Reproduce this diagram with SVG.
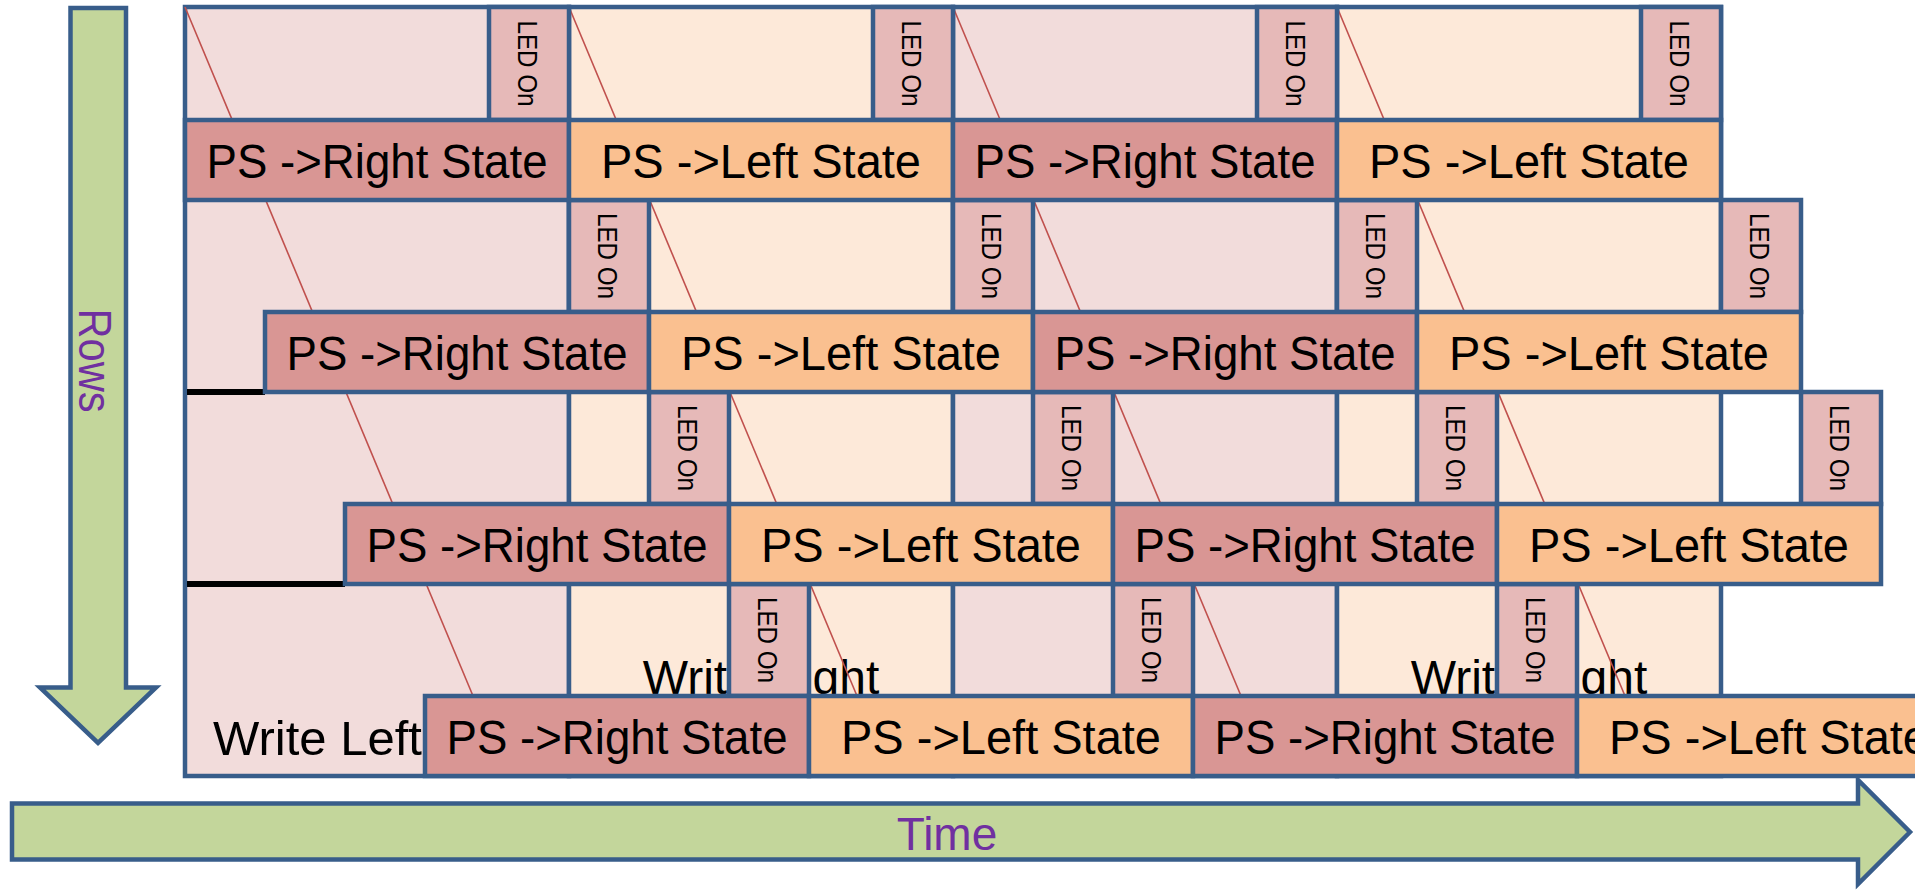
<svg xmlns="http://www.w3.org/2000/svg" width="1932" height="890" viewBox="0 0 1932 890">
  <defs>
    <clipPath id="page"><rect x="0" y="0" width="1915" height="890"/></clipPath>
  </defs>
  <style>
    .bd { stroke:#385D8A; stroke-width:4.5; stroke-linejoin:miter; }
    .bg-r { fill:#F2DCDB; }
    .bg-l { fill:#FDE9D9; }
    .led { fill:#E6B9B8; }
    .ps-r { fill:#D99694; }
    .ps-l { fill:#FAC090; }
    .arrow { fill:#C3D69B; }
    .t { font-family:"Liberation Sans", Arial, sans-serif; fill:#000; }
    .ps-t { font-size:48px; text-anchor:middle; }
    .write-t { font-size:48px; }
    .led-t { font-size:27px; text-anchor:middle; }
    .axis-t { font-size:46px; fill:#7030A0; text-anchor:middle; }
    .diag { stroke:#C0504D; stroke-width:1.6; fill:none; }
    .gap { stroke:#000; stroke-width:6; }
  </style>

  <g clip-path="url(#page)">
    <!-- Axis arrows -->
    <g id="rows-arrow">
      <polygon class="arrow bd" points="70.5,8 126,8 126,687.5 156,687.5 98,743 40,687.5 70.5,687.5"/>
      <text class="t axis-t" transform="translate(79,360.5) rotate(90)" textLength="104" lengthAdjust="spacingAndGlyphs">Rows</text>
    </g>
    <g id="time-arrow">
      <polygon class="arrow bd" points="12,803.5 1858,803.5 1858,780 1910,832 1858,884 1858,859.5 12,859.5"/>
      <text class="t axis-t" x="947" y="850">Time</text>
    </g>

    <!-- Write phases: tall column backgrounds -->
    <g id="write-left-1">
      <rect class="bg-r bd" x="185" y="7" width="384" height="769"/>
      <text class="t write-t" x="213" y="755" textLength="209" lengthAdjust="spacingAndGlyphs">Write Left</text>
    </g>
    <g id="write-right-1">
      <rect class="bg-l bd" x="569" y="7" width="384" height="769"/>
      <text class="t write-t" x="761" y="694" text-anchor="middle">Write Right</text>
    </g>
    <g id="write-left-2">
      <rect class="bg-r bd" x="953" y="7" width="384" height="769"/>
    </g>
    <g id="write-right-2">
      <rect class="bg-l bd" x="1337" y="7" width="384" height="769"/>
      <text class="t write-t" x="1529" y="694" text-anchor="middle">Write Right</text>
    </g>

    <!-- Row scan diagonals -->
    <g id="scan-diagonals">
      <line class="diag" x1="185" y1="7" x2="474.7" y2="700"/>
      <line class="diag" x1="569" y1="7" x2="858.7" y2="700"/>
      <line class="diag" x1="953" y1="7" x2="1242.7" y2="700"/>
      <line class="diag" x1="1337" y1="7" x2="1626.7" y2="700"/>
    </g>

    <!-- Idle gaps before delayed rows -->
    <g id="row-gaps">
      <line class="gap" x1="187" y1="392" x2="265" y2="392"/>
      <line class="gap" x1="187" y1="584" x2="345" y2="584"/>
    </g>

    <!-- LED On windows -->
    <g id="led-r1-1"><rect class="led bd" x="489" y="7" width="80" height="113"/><text class="t led-t" transform="translate(518,63.5) rotate(90)" textLength="86" lengthAdjust="spacingAndGlyphs">LED On</text></g>
    <g id="led-r1-2"><rect class="led bd" x="873" y="7" width="80" height="113"/><text class="t led-t" transform="translate(902,63.5) rotate(90)" textLength="86" lengthAdjust="spacingAndGlyphs">LED On</text></g>
    <g id="led-r1-3"><rect class="led bd" x="1257" y="7" width="80" height="113"/><text class="t led-t" transform="translate(1286,63.5) rotate(90)" textLength="86" lengthAdjust="spacingAndGlyphs">LED On</text></g>
    <g id="led-r1-4"><rect class="led bd" x="1641" y="7" width="80" height="113"/><text class="t led-t" transform="translate(1670,63.5) rotate(90)" textLength="86" lengthAdjust="spacingAndGlyphs">LED On</text></g>

    <g id="led-r2-1"><rect class="led bd" x="569" y="200" width="80" height="112"/><text class="t led-t" transform="translate(598,256) rotate(90)" textLength="86" lengthAdjust="spacingAndGlyphs">LED On</text></g>
    <g id="led-r2-2"><rect class="led bd" x="953" y="200" width="80" height="112"/><text class="t led-t" transform="translate(982,256) rotate(90)" textLength="86" lengthAdjust="spacingAndGlyphs">LED On</text></g>
    <g id="led-r2-3"><rect class="led bd" x="1337" y="200" width="80" height="112"/><text class="t led-t" transform="translate(1366,256) rotate(90)" textLength="86" lengthAdjust="spacingAndGlyphs">LED On</text></g>
    <g id="led-r2-4"><rect class="led bd" x="1721" y="200" width="80" height="112"/><text class="t led-t" transform="translate(1750,256) rotate(90)" textLength="86" lengthAdjust="spacingAndGlyphs">LED On</text></g>

    <g id="led-r3-1"><rect class="led bd" x="649" y="392" width="80" height="112"/><text class="t led-t" transform="translate(678,448) rotate(90)" textLength="86" lengthAdjust="spacingAndGlyphs">LED On</text></g>
    <g id="led-r3-2"><rect class="led bd" x="1033" y="392" width="80" height="112"/><text class="t led-t" transform="translate(1062,448) rotate(90)" textLength="86" lengthAdjust="spacingAndGlyphs">LED On</text></g>
    <g id="led-r3-3"><rect class="led bd" x="1417" y="392" width="80" height="112"/><text class="t led-t" transform="translate(1446,448) rotate(90)" textLength="86" lengthAdjust="spacingAndGlyphs">LED On</text></g>
    <g id="led-r3-4"><rect class="led bd" x="1801" y="392" width="80" height="112"/><text class="t led-t" transform="translate(1830,448) rotate(90)" textLength="86" lengthAdjust="spacingAndGlyphs">LED On</text></g>

    <g id="led-r4-1"><rect class="led bd" x="729" y="584" width="80" height="112"/><text class="t led-t" transform="translate(758,640) rotate(90)" textLength="86" lengthAdjust="spacingAndGlyphs">LED On</text></g>
    <g id="led-r4-2"><rect class="led bd" x="1113" y="584" width="80" height="112"/><text class="t led-t" transform="translate(1142,640) rotate(90)" textLength="86" lengthAdjust="spacingAndGlyphs">LED On</text></g>
    <g id="led-r4-3"><rect class="led bd" x="1497" y="584" width="80" height="112"/><text class="t led-t" transform="translate(1526,640) rotate(90)" textLength="86" lengthAdjust="spacingAndGlyphs">LED On</text></g>

    <!-- Power-supply state changes, one band per row -->
    <g id="ps-r1-1"><rect class="ps-r bd" x="185" y="120" width="384" height="80"/><text class="t ps-t" x="377" y="178" textLength="341" lengthAdjust="spacingAndGlyphs">PS -&gt;Right State</text></g>
    <g id="ps-r1-2"><rect class="ps-l bd" x="569" y="120" width="384" height="80"/><text class="t ps-t" x="761" y="178" textLength="320" lengthAdjust="spacingAndGlyphs">PS -&gt;Left State</text></g>
    <g id="ps-r1-3"><rect class="ps-r bd" x="953" y="120" width="384" height="80"/><text class="t ps-t" x="1145" y="178" textLength="341" lengthAdjust="spacingAndGlyphs">PS -&gt;Right State</text></g>
    <g id="ps-r1-4"><rect class="ps-l bd" x="1337" y="120" width="384" height="80"/><text class="t ps-t" x="1529" y="178" textLength="320" lengthAdjust="spacingAndGlyphs">PS -&gt;Left State</text></g>

    <g id="ps-r2-1"><rect class="ps-r bd" x="265" y="312" width="384" height="80"/><text class="t ps-t" x="457" y="370" textLength="341" lengthAdjust="spacingAndGlyphs">PS -&gt;Right State</text></g>
    <g id="ps-r2-2"><rect class="ps-l bd" x="649" y="312" width="384" height="80"/><text class="t ps-t" x="841" y="370" textLength="320" lengthAdjust="spacingAndGlyphs">PS -&gt;Left State</text></g>
    <g id="ps-r2-3"><rect class="ps-r bd" x="1033" y="312" width="384" height="80"/><text class="t ps-t" x="1225" y="370" textLength="341" lengthAdjust="spacingAndGlyphs">PS -&gt;Right State</text></g>
    <g id="ps-r2-4"><rect class="ps-l bd" x="1417" y="312" width="384" height="80"/><text class="t ps-t" x="1609" y="370" textLength="320" lengthAdjust="spacingAndGlyphs">PS -&gt;Left State</text></g>

    <g id="ps-r3-1"><rect class="ps-r bd" x="345" y="504" width="384" height="80"/><text class="t ps-t" x="537" y="562" textLength="341" lengthAdjust="spacingAndGlyphs">PS -&gt;Right State</text></g>
    <g id="ps-r3-2"><rect class="ps-l bd" x="729" y="504" width="384" height="80"/><text class="t ps-t" x="921" y="562" textLength="320" lengthAdjust="spacingAndGlyphs">PS -&gt;Left State</text></g>
    <g id="ps-r3-3"><rect class="ps-r bd" x="1113" y="504" width="384" height="80"/><text class="t ps-t" x="1305" y="562" textLength="341" lengthAdjust="spacingAndGlyphs">PS -&gt;Right State</text></g>
    <g id="ps-r3-4"><rect class="ps-l bd" x="1497" y="504" width="384" height="80"/><text class="t ps-t" x="1689" y="562" textLength="320" lengthAdjust="spacingAndGlyphs">PS -&gt;Left State</text></g>

    <g id="ps-r4-1"><rect class="ps-r bd" x="425" y="696" width="384" height="80"/><text class="t ps-t" x="617" y="754" textLength="341" lengthAdjust="spacingAndGlyphs">PS -&gt;Right State</text></g>
    <g id="ps-r4-2"><rect class="ps-l bd" x="809" y="696" width="384" height="80"/><text class="t ps-t" x="1001" y="754" textLength="320" lengthAdjust="spacingAndGlyphs">PS -&gt;Left State</text></g>
    <g id="ps-r4-3"><rect class="ps-r bd" x="1193" y="696" width="384" height="80"/><text class="t ps-t" x="1385" y="754" textLength="341" lengthAdjust="spacingAndGlyphs">PS -&gt;Right State</text></g>
    <g id="ps-r4-4"><rect class="ps-l bd" x="1577" y="696" width="384" height="80"/><text class="t ps-t" x="1769" y="754" textLength="320" lengthAdjust="spacingAndGlyphs">PS -&gt;Left State</text></g>
  </g>
</svg>
